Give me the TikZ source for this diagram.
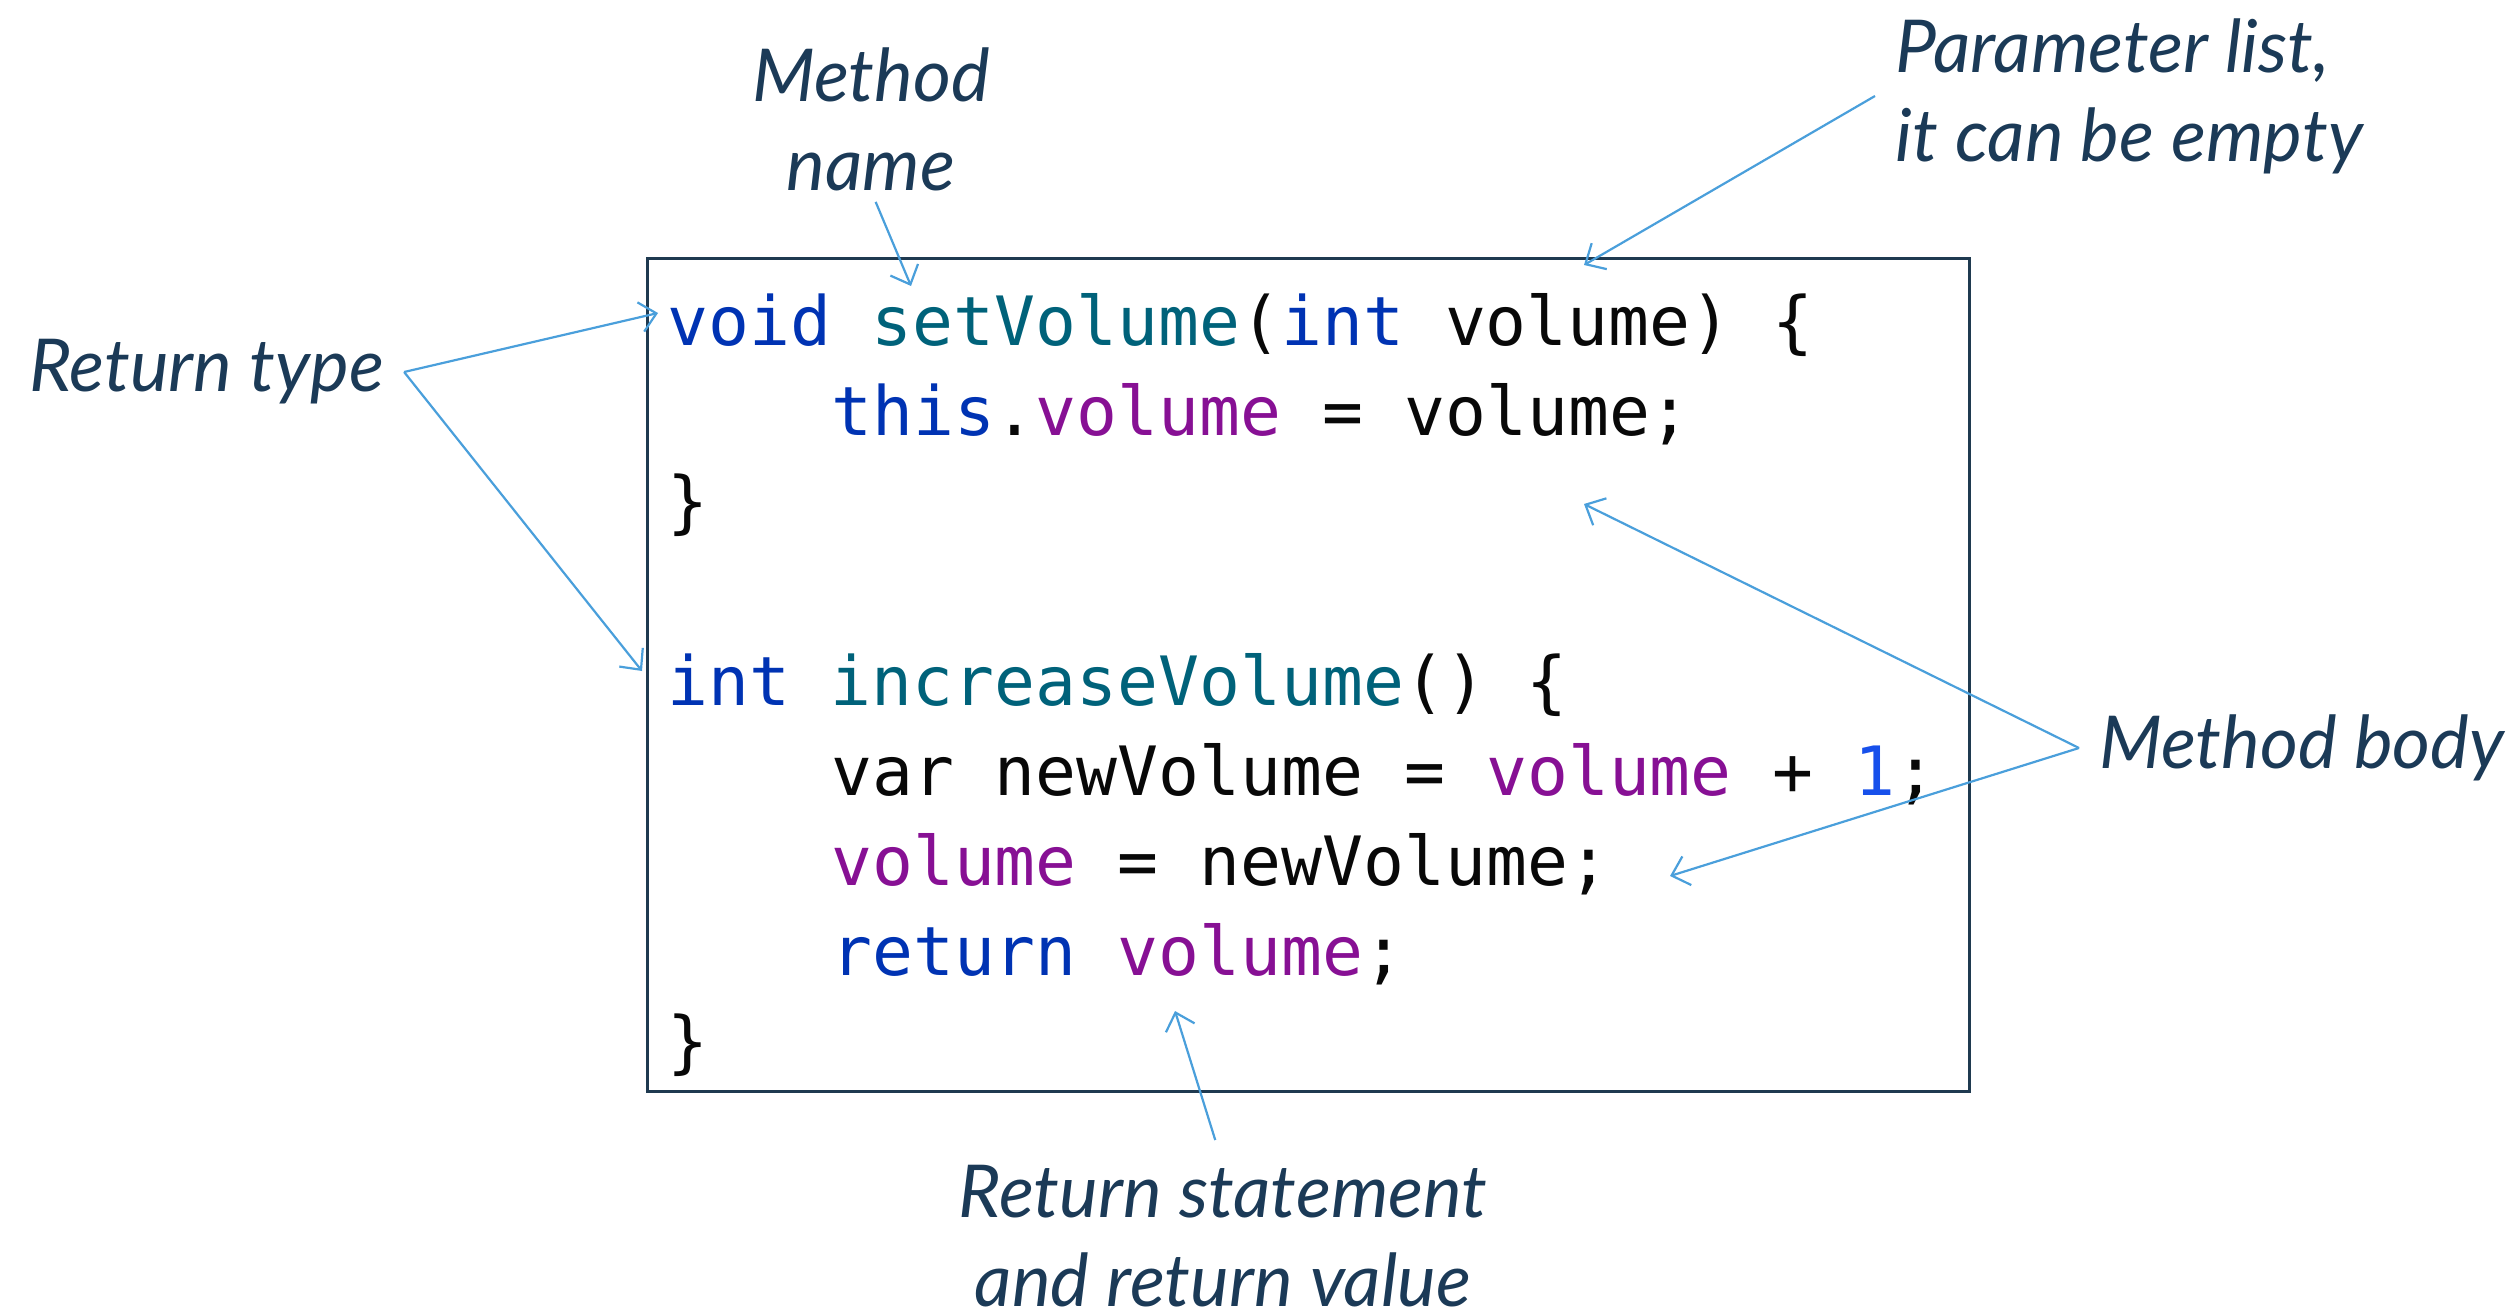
\documentclass[tikz,border=0pt]{standalone}
\usepackage{fontspec}
\setmainfont{Lato}
\setmonofont{DejaVu Sans Mono}
\usetikzlibrary{arrows.meta}
\definecolor{kw}{HTML}{0033B3}
\definecolor{fn}{HTML}{00627A}
\definecolor{fld}{HTML}{871094}
\definecolor{num}{HTML}{1750EB}
\definecolor{plain}{HTML}{080808}
\definecolor{note}{HTML}{1B3A57}
\definecolor{pointer}{HTML}{4A9FDB}
\definecolor{frame}{HTML}{1F3A50}
\newcommand{\kw}[1]{\textcolor{kw}{#1}}
\newcommand{\fn}[1]{\textcolor{fn}{#1}}
\newcommand{\fld}[1]{\textcolor{fld}{#1}}
\newcommand{\num}[1]{\textcolor{num}{#1}}
\begin{document}
\begin{tikzpicture}[x=1pt,y=-1pt,
  codeline/.style={anchor=base west, inner sep=0pt,
    font=\fontsize{68}{90}\selectfont\ttfamily, text=plain},
  note/.style={font=\fontsize{73}{89}\selectfont\itshape, text=note,
    inner xsep=20pt, inner ysep=0pt},
  ptr/.style={draw=pointer, line width=2.2pt,
    -{Straight Barb[length=16pt,width=30pt,line width=2.2pt]}}]
\useasboundingbox (0,0) rectangle (2516,1308);

% code frame
\draw[frame, line width=3pt] (647,258) rectangle (1969,1091);

% source lines
\node[codeline] (l1) at (667,345) {\kw{void} \fn{setVolume}(\kw{int} volume) \{};
\node[codeline] (l2) at (831,435) {\kw{this}.\fld{volume} = volume;};
\node[codeline] (l3) at (667,525) {\}};
\node[codeline] (l5) at (667,705) {\kw{int} \fn{increaseVolume}() \{};
\node[codeline] (l6) at (831,795) {var newVolume = \fld{volume} + \num{1};};
\node[codeline] (l7) at (831,885) {\fld{volume} = newVolume;};
\node[codeline] (l8) at (831,975) {\kw{return} \fld{volume};};
\node[codeline] (l9) at (667,1065) {\}};

% annotations
\node[note, align=center] (mname) at (871,119) {Method\\name};
\node[note, align=left, anchor=west] (plist) at (1875,96) {Parameter list,\\it can be empty};
\node[note, anchor=west] (rtype) at (9,372) {Return type};
\node[note, anchor=west] (mbody) at (2079,748) {Method body};
\node[note, align=center] (rstmt) at (1223,1236) {Return statement\\and return value};

% arrow targets
\coordinate (t-name) at (911,286);
\coordinate (t-params) at (1584,265);
\coordinate (t-void) at (658,313);
\coordinate (t-int) at (642,671);
\coordinate (t-body1) at (1584,504);
\coordinate (t-body2) at (1670,876);
\coordinate (t-ret) at (1175,1011);

% pointers
\draw[ptr, shorten <=12pt] (mname.south) -- (t-name);
\draw[ptr] (plist.west) -- (t-params);
\draw[ptr] (rtype.east) -- (t-void);
\draw[ptr] (rtype.east) -- (t-int);
\draw[ptr] (mbody.west) -- (t-body1);
\draw[ptr] (mbody.west) -- (t-body2);
\draw[ptr, shorten <=26pt] (rstmt.north) -- (t-ret);
\end{tikzpicture}
\end{document}
